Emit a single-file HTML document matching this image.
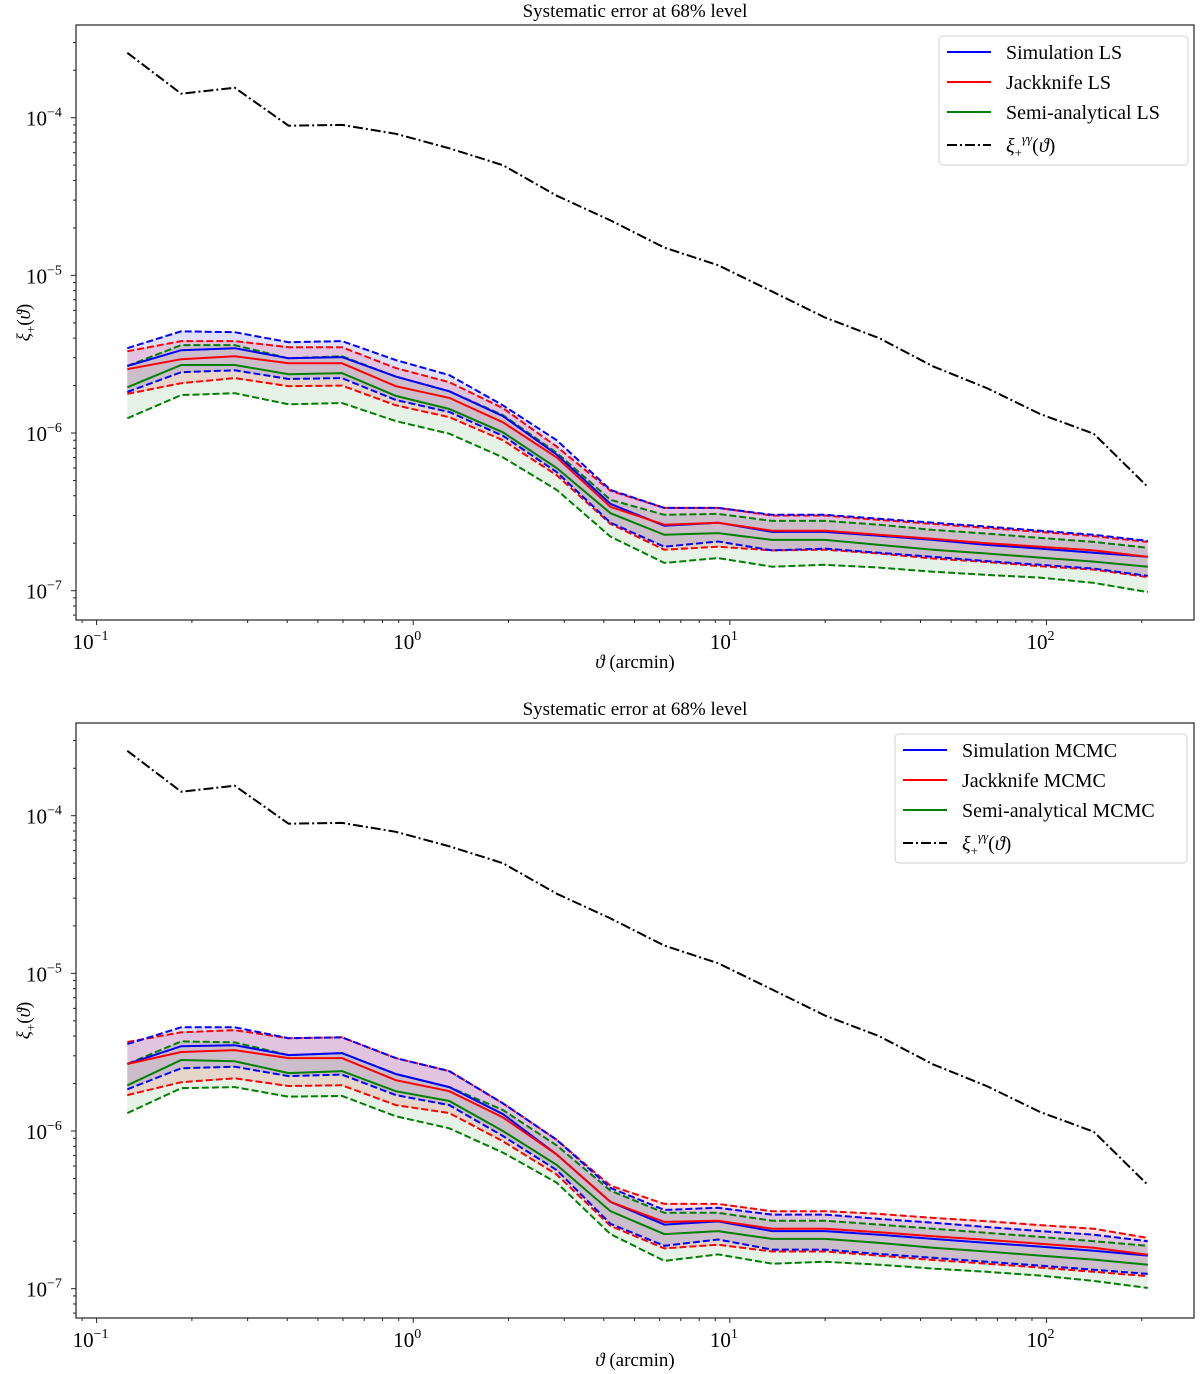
<!DOCTYPE html>
<html><head><meta charset="utf-8"><style>
body{margin:0;background:#fff;}
svg{display:block;font-family:"Liberation Serif","DejaVu Serif",serif;}
</style></head><body>
<svg id="fig" width="1200" height="1374" viewBox="0 0 1200 1374" xmlns="http://www.w3.org/2000/svg"></svg>
<script>
const theta=[0.125,0.185,0.273,0.404,0.596,0.881,1.30,1.92,2.84,4.20,6.21,9.18,13.6,20.0,29.6,43.8,64.7,95.5,141,209];
const xiGG=[2.58e-4,1.42e-4,1.55e-4,8.9e-5,9.0e-5,7.9e-5,6.4e-5,5.0e-5,3.2e-5,2.23e-5,1.50e-5,1.16e-5,7.9e-6,5.4e-6,4.0e-6,2.65e-6,1.93e-6,1.32e-6,9.9e-7,4.55e-7];
// top panel (LS), units 1e-6
const lsBlue=[2.66,3.35,3.45,2.98,3.03,2.28,1.84,1.28,0.73,0.355,0.258,0.27,0.236,0.236,0.223,0.21,0.195,0.185,0.174,0.164];
const lsBlueUp=[3.45,4.42,4.36,3.77,3.83,2.90,2.33,1.50,0.90,0.436,0.335,0.335,0.303,0.303,0.286,0.27,0.255,0.24,0.226,0.207];
const lsBlueLo=[1.82,2.43,2.5,2.2,2.23,1.62,1.36,0.96,0.565,0.27,0.19,0.205,0.18,0.185,0.174,0.164,0.154,0.146,0.138,0.124];
const lsRed=[2.54,2.94,3.07,2.77,2.77,1.98,1.67,1.17,0.70,0.34,0.262,0.27,0.24,0.24,0.226,0.213,0.20,0.19,0.18,0.164];
const lsRedUp=[3.30,3.83,3.83,3.5,3.5,2.58,2.10,1.44,0.82,0.43,0.335,0.335,0.30,0.30,0.281,0.265,0.25,0.236,0.222,0.204];
const lsRedLo=[1.77,2.07,2.23,1.98,2.0,1.50,1.26,0.90,0.54,0.265,0.182,0.19,0.18,0.182,0.172,0.16,0.152,0.143,0.136,0.122];
const lsGreen=[1.95,2.7,2.7,2.36,2.4,1.72,1.42,1.01,0.60,0.31,0.226,0.232,0.21,0.21,0.195,0.182,0.172,0.162,0.153,0.142];
const lsGreenUp=[2.66,3.61,3.61,2.98,3.07,2.28,1.84,1.30,0.75,0.377,0.303,0.307,0.277,0.277,0.262,0.243,0.23,0.216,0.204,0.187];
const lsGreenLo=[1.24,1.74,1.79,1.52,1.55,1.19,0.99,0.70,0.436,0.22,0.15,0.161,0.142,0.146,0.14,0.132,0.126,0.121,0.112,0.098];
// bottom panel (MCMC), units 1e-6
const mcBlue=[2.66,3.45,3.5,3.03,3.12,2.3,1.9,1.28,0.71,0.355,0.255,0.267,0.232,0.232,0.22,0.207,0.195,0.185,0.174,0.162];
const mcBlueUp=[3.56,4.55,4.55,3.88,3.93,2.90,2.4,1.5,0.88,0.436,0.316,0.326,0.295,0.295,0.277,0.262,0.246,0.232,0.22,0.20];
const mcBlueLo=[1.84,2.5,2.56,2.23,2.28,1.69,1.46,0.93,0.565,0.258,0.187,0.205,0.177,0.177,0.166,0.157,0.148,0.14,0.132,0.124];
const mcRed=[2.66,3.17,3.26,2.9,2.9,2.1,1.79,1.22,0.71,0.355,0.265,0.27,0.24,0.24,0.228,0.215,0.204,0.193,0.182,0.164];
const mcRedUp=[3.67,4.23,4.36,3.88,3.93,2.9,2.4,1.5,0.88,0.45,0.345,0.345,0.31,0.31,0.298,0.281,0.268,0.253,0.24,0.21];
const mcRedLo=[1.69,2.04,2.16,1.93,1.95,1.46,1.30,0.86,0.53,0.25,0.18,0.19,0.172,0.172,0.162,0.152,0.144,0.136,0.128,0.12];
const mcGreen=[1.95,2.82,2.77,2.33,2.4,1.79,1.55,1.0,0.61,0.31,0.222,0.232,0.207,0.207,0.195,0.182,0.172,0.162,0.153,0.142];
const mcGreenUp=[2.66,3.7,3.65,3.03,3.12,2.3,1.9,1.36,0.81,0.418,0.303,0.303,0.27,0.27,0.255,0.24,0.226,0.213,0.2,0.187];
const mcGreenLo=[1.30,1.87,1.9,1.65,1.67,1.24,1.04,0.73,0.47,0.222,0.15,0.165,0.144,0.148,0.142,0.134,0.128,0.121,0.112,0.101];
const xTickExp=[-1,0,1,2];
const yTickExp=[-7,-6,-5,-4];
const lsLegend=["Simulation LS","Jackknife LS","Semi-analytical LS"];
const mcLegend=["Simulation MCMC","Jackknife MCMC","Semi-analytical MCMC"];

const NS="http://www.w3.org/2000/svg";
const svg=document.getElementById('fig');
function mk(tag,attrs,parent){const e=document.createElementNS(NS,tag);for(const k in attrs)e.setAttribute(k,attrs[k]);(parent||svg).appendChild(e);return e;}

const L=76,R=1194;
const xMin=-1.065,xMax=2.466;
function xs(v){return L+(Math.log10(v)-xMin)/(xMax-xMin)*(R-L);}

function panel(off,prefix,sets,legendNames,leg){
  const T=25+off,B=620+off;
  const yMax=-3.412,yMin=-7.186;
  const ys=v=>T+(yMax-Math.log10(v))/(yMax-yMin)*(B-T);
  const g=mk('g',{});
  
  
  const cp=mk('clipPath',{id:'cp'+off},g);
  mk('rect',{x:L,y:T,width:R-L,height:B-T},cp);
  const pg=mk('g',{'clip-path':'url(#cp'+off+')'},g);
  
  
  const path=arr=>arr.map((v,i)=>(i?'L':'M')+xs(theta[i]).toFixed(1)+','+ys(v*1e-6).toFixed(1)).join('');
  const cols=['#0000ff','#ff0000','#008000'];
  const fills=['rgba(0,0,255,0.12)','rgba(255,0,0,0.12)','rgba(0,128,0,0.1)'];
  const names=['simulation','jackknife','semi-analytical'];
  sets.forEach((s,k)=>{
    const up=s[1],lo=s[2];
    let d=up.map((v,i)=>(i?'L':'M')+xs(theta[i]).toFixed(1)+','+ys(v*1e-6).toFixed(1)).join('');
    for(let i=lo.length-1;i>=0;i--)d+='L'+xs(theta[i]).toFixed(1)+','+ys(lo[i]*1e-6).toFixed(1);
    const b=mk('path',{d:d+'Z',fill:fills[k],stroke:'none'},pg);
    
    
  });
  [2,1,0].forEach(k=>{
    const s=sets[k];
    const u=mk('path',{d:path(s[1]),fill:'none',stroke:cols[k],'stroke-width':2,'stroke-dasharray':'7,3'},pg);
    
    
    const l=mk('path',{d:path(s[2]),fill:'none',stroke:cols[k],'stroke-width':2,'stroke-dasharray':'7,3'},pg);
    
    
  });
  [2,0,1].forEach(k=>{
    const m=mk('path',{d:path(sets[k][0]),fill:'none',stroke:cols[k],'stroke-width':2},pg);
    
    
  });
  const bl=mk('path',{d:xiGG.map((v,i)=>(i?'L':'M')+xs(theta[i]).toFixed(1)+','+ys(v).toFixed(1)).join(''),fill:'none',stroke:'#000','stroke-width':2,'stroke-dasharray':'10,3,2,3'},pg);
  
  
  const fr=mk('rect',{x:L,y:T,width:R-L,height:B-T,fill:'none',stroke:'#222','stroke-width':1.2},g);
  
  
  for(let e=-2;e<=3;e++){for(let m=1;m<10;m++){const v=m*Math.pow(10,e);const x=xs(v);if(x<L||x>R)continue;
    mk('line',{x1:x,x2:x,y1:B,y2:B+(m==1?5:3),stroke:'#222','stroke-width':1},g);}}
  xTickExp.forEach(e=>{const t=mk('text',{x:xs(Math.pow(10,e))-6,y:B+29,'font-size':21,'text-anchor':'middle'},g);
    
    
    t.textContent='10';const s=mk('tspan',{dy:-9,'font-size':14},t);s.textContent=(e<0?'\u2212':'')+Math.abs(e);});
  for(let e=-8;e<=-3;e++){for(let m=1;m<10;m++){const v=m*Math.pow(10,e);const y=ys(v);if(y<T||y>B)continue;
    mk('line',{x1:L,x2:L-(m==1?5:3),y1:y,y2:y,stroke:'#222','stroke-width':1},g);}}
  yTickExp.forEach(e=>{const t=mk('text',{x:26,y:ys(Math.pow(10,e))+8,'font-size':21},g);
    
    
    t.textContent='10';const s=mk('tspan',{dy:-9,'font-size':14},t);s.textContent='\u2212'+Math.abs(e);});
  const ti=mk('text',{x:(L+R)/2,y:T-8,'font-size':19,'text-anchor':'middle'},g);
  
  
  ti.textContent='Systematic error at 68% level';
  const xl=mk('text',{x:(L+R)/2,y:B+48,'font-size':19,'text-anchor':'middle'},g);
  
  
  xl.innerHTML='<tspan font-style="italic">ϑ</tspan> (arcmin)';
  const yc=(T+B)/2;
  const yl=mk('text',{x:0,y:0,'font-size':19,'text-anchor':'middle',transform:'translate(30,'+yc+') rotate(-90)'},g);
  
  
  yl.innerHTML='<tspan font-style="italic">ξ</tspan><tspan font-size="13" dy="5">+</tspan><tspan dy="-5">(</tspan><tspan font-style="italic">ϑ</tspan>)';
  const lg=mk('g',{},g);
  
  
  mk('rect',{x:leg.x,y:leg.y+off,width:leg.w,height:129,rx:4,fill:'rgba(255,255,255,0.85)',stroke:'#d0d0d0','stroke-width':1},lg);
  [0,1,2,3].forEach(i=>{const cy=leg.y+off+16+i*30+(i==3?3:0);
    const ln=mk('line',{x1:leg.x+8,x2:leg.x+52,y1:cy,y2:cy,stroke:i<3?cols[i]:'#000','stroke-width':2,'stroke-dasharray':i==3?'10,3,2,3':'none'},lg);
    
    
    const t=mk('text',{x:leg.x+67,y:cy+7,'font-size':20},lg);
    
    
    if(i<3)t.textContent=legendNames[i];
    else t.innerHTML='<tspan font-style="italic">ξ</tspan><tspan font-size="13" dy="5">+</tspan><tspan font-size="13" dy="-14" font-style="italic">γγ</tspan><tspan dy="9">(</tspan><tspan font-style="italic">ϑ</tspan>)';
  });
}
panel(0,'ls',[[lsBlue,lsBlueUp,lsBlueLo],[lsRed,lsRedUp,lsRedLo],[lsGreen,lsGreenUp,lsGreenLo]],lsLegend,{x:939,y:36,w:249});
panel(698,'mcmc',[[mcBlue,mcBlueUp,mcBlueLo],[mcRed,mcRedUp,mcRedLo],[mcGreen,mcGreenUp,mcGreenLo]],mcLegend,{x:895,y:36,w:292});
</script>
</body></html>
